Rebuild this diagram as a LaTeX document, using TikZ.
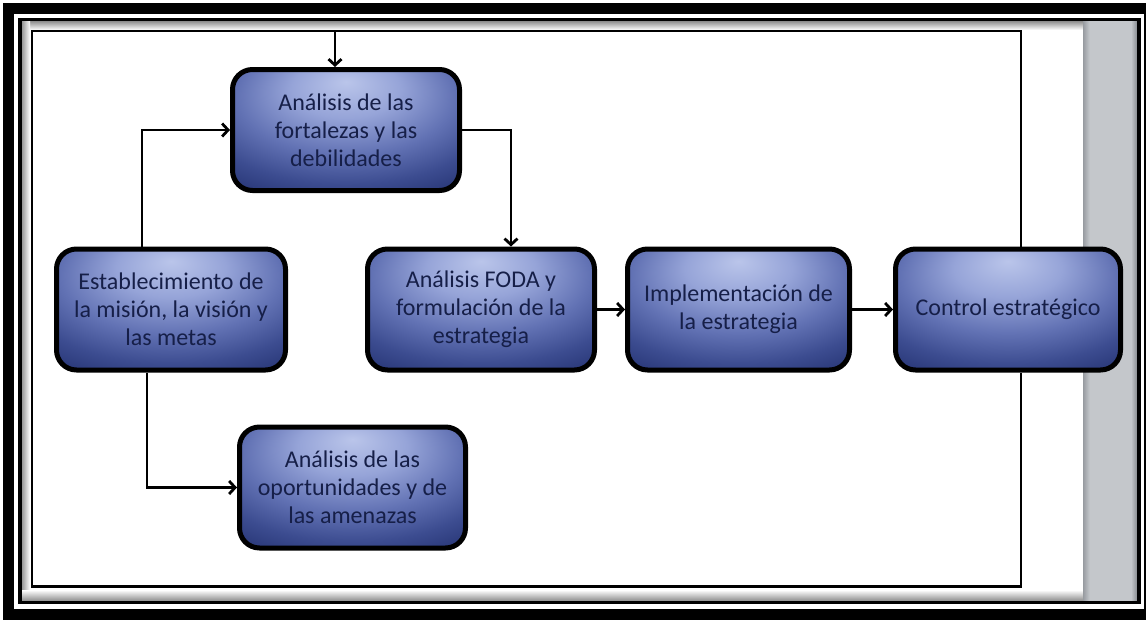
\documentclass[tikz,border=0pt]{standalone}
\usepackage{fontspec}
\setmainfont{Carlito}
\usetikzlibrary{arrows.meta,calc}

\definecolor{boxtext}{HTML}{161F48}
\definecolor{glowA}{HTML}{BAC5EA}
\definecolor{glowB}{HTML}{96A4D8}
\definecolor{glowC}{HTML}{6272B4}
\definecolor{glowD}{HTML}{3C4C90}
\definecolor{glowE}{HTML}{22306F}
\definecolor{glowF}{HTML}{1A2662}
\definecolor{stripA}{HTML}{979BA0}
\definecolor{stripB}{HTML}{C4C7CB}
\definecolor{stripC}{HTML}{85898E}
\definecolor{shade}{HTML}{8C8C8C}

% soft glow: light near the top, dark navy towards the edges and bottom
\pgfdeclareradialshading{boxglow}{\pgfpoint{0bp}{20bp}}{%
  color(0bp)=(glowA); color(12bp)=(glowB); color(24bp)=(glowC);
  color(34bp)=(glowD); color(44bp)=(glowE); color(55bp)=(glowF);
  color(80bp)=(glowF)}
% grey side bar with darker edges
\pgfdeclarehorizontalshading{stripshade}{100bp}{%
  color(0bp)=(stripA); color(25bp)=(stripA); color(31bp)=(stripB);
  color(69bp)=(stripB); color(75bp)=(stripC); color(100bp)=(stripC)}

\tikzset{
  stepbox/.style={draw=black, line width=5pt, rounded corners=20pt,
    shading=boxglow, text=boxtext, align=center,
    font=\fontsize{24}{28}\selectfont,
    minimum width=227pt, minimum height=121pt, inner sep=0pt},
  link/.style={draw=black, line width=2.8pt},
  arrowlink/.style={link, -{Straight Barb[length=6pt,width=13pt]}},
}

\begin{document}
\begin{tikzpicture}[x=1pt, y=-1pt]
  \useasboundingbox (0,0) rectangle (1146,619);
  \clip (0,0) rectangle (1146,619);
  \fill[white] (0,0) rectangle (1146,619);

  % frame: heavy outer band, thin inner line, inset shadow and side bar
  \draw[line width=11pt] (8.5,8.5) rectangle (1149.5,614.5);
  \shade[top color=shade, bottom color=white] (21,21) rectangle (1083,30);
  \shade[left color=shade, right color=white] (21,21) rectangle (30,601);
  \shade[top color=white, bottom color=shade] (21,590) rectangle (1083,601);
  \shade[shading=stripshade] (1083,21) rectangle (1137.5,601);
  \draw[line width=3.5pt] (20,19.5) rectangle (1139,602.5);

  % process steps
  \node[stepbox] (fort) at (346,130) {Análisis de las\\fortalezas y las\\debilidades};
  \node[stepbox, minimum width=229pt] (mision) at (171,309.5) {Establecimiento de\\la misión, la visión y\\las metas};
  \node[stepbox] (foda) at (481,309.5) {Análisis FODA y\\formulación de la\\estrategia};
  \node[stepbox, minimum width=222pt] (impl) at (738.5,309.5) {Implementación de\\la estrategia};
  \node[stepbox, minimum width=225pt] (control) at (1008,309.5) {Control estratégico};
  \node[stepbox, minimum width=226pt] (oport) at (352.5,487.5) {Análisis de las\\oportunidades y de\\las amenazas};

  % corners of the feedback loop
  \coordinate (tl) at (32,31);
  \coordinate (tr) at (1021,31);
  \coordinate (bl) at (32,586.5);
  \coordinate (br) at (1021,586.5);

  % connectors
  \draw[arrowlink] ($(mision.north)+(-29,0)$) |- (fort.west);
  \draw[arrowlink] ($(mision.south)+(-24,0)$) |- (oport.west);
  \draw[arrowlink] (fort.east) -| ($(foda.north)+(30,0)$);
  \draw[arrowlink] (foda.east) -- (impl.west);
  \draw[arrowlink] (impl.east) -- (control.west);
  \draw[arrowlink] (control.north -| tr) -- (tr) -| ($(fort.north)+(-11,0)$);
  \draw[link, line join=miter] (control.south -| br) -- (br) -- (bl) -- (tl) -- ($(fort.north |- tl)+(-11,0)$);
\end{tikzpicture}
\end{document}
